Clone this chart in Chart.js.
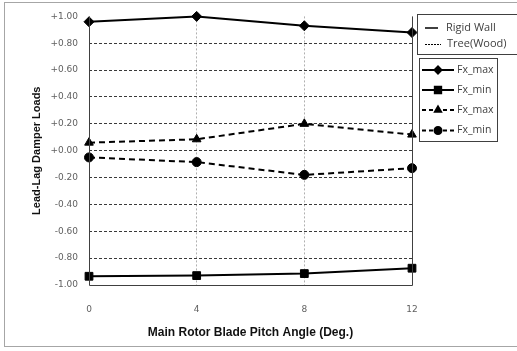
<!DOCTYPE html>
<html>
<head>
<meta charset="utf-8">
<script src="https://cdn.jsdelivr.net/npm/chart.js@4/dist/chart.umd.min.js"></script>
<style>
  html, body { margin: 0; padding: 0; background: #fff; overflow: hidden; }
  #wrap { position: relative; width: 517px; height: 351px; }
  #frame { position: absolute; left: 4px; top: 2px; width: 530px; height: 345px; border: 1px solid #a6a6a6; box-sizing: border-box; pointer-events: none; }
  canvas { position: absolute; left: 0; top: 0; }
</style>
</head>
<body>
<div id="wrap">
  <canvas id="c" width="517" height="351"></canvas>
  <div id="frame"></div>
</div>
<script>
// Blade pitch angles (deg.)
const pitchAngles = [0, 4, 8, 12];

// Lead-lag damper loads, rigid wall boundary
const rigidFxMax = [0.96, 1.00, 0.93, 0.88];
const rigidFxMin = [-0.935, -0.93, -0.915, -0.875];

// Lead-lag damper loads, tree (wood) boundary
const treeFxMax = [0.06, 0.085, 0.20, 0.12];
const treeFxMin = [-0.05, -0.085, -0.18, -0.13];

const xTicks = [0, 4, 8, 12];
const yMin = -1.0, yMax = 1.0, yStep = 0.2;

const groupLabels = ['Rigid Wall', 'Tree(Wood)'];
const seriesLabels = ['Fx_max', 'Fx_min', 'Fx_max', 'Fx_min'];

const DASH = [6, 4];
const toPoints = vals => pitchAngles.map((a, i) => ({ x: a, y: vals[i] }));

const seriesDefs = [
  { values: rigidFxMax, style: 'rectRot', radius: 5, legendRadius: 3.5, dash: [] },
  { values: rigidFxMin, style: 'rect', radius: 5.5, legendRadius: 4.5, dash: [] },
  { values: treeFxMax, style: 'triangle', radius: 5, legendRadius: 3.5, dash: DASH },
  { values: treeFxMin, style: 'circle', radius: 4.5, legendRadius: 3.5, dash: DASH }
];

const datasets = seriesDefs.map((s, i) => ({
  label: seriesLabels[i],
  data: toPoints(s.values),
  borderColor: '#000',
  backgroundColor: '#000',
  borderWidth: 2,
  borderDash: s.dash,
  pointStyle: s.style,
  pointRadius: s.radius,
  pointBorderWidth: 1,
  pointBackgroundColor: '#000',
  pointBorderColor: '#000',
  tension: 0,
  clip: false
}));

const TEXT_FONT = '"Open Sans", "Noto Sans", sans-serif';
const TITLE_FONT = '"Liberation Sans", Arial, sans-serif';

// Plot frame (left, bottom and right edges) plus the two legend boxes
const framePlugin = {
  id: 'frameAndLegend',
  afterDatasetsDraw(chart) {
    const { ctx, chartArea: a } = chart;
    ctx.save();
    ctx.strokeStyle = '#404040';
    ctx.lineWidth = 1;
    ctx.setLineDash([]);
    ctx.beginPath();
    ctx.moveTo(Math.round(a.left) + 0.5, a.top);
    ctx.lineTo(Math.round(a.left) + 0.5, Math.round(a.bottom) + 0.5);
    ctx.lineTo(Math.round(a.right) + 0.5, Math.round(a.bottom) + 0.5);
    ctx.lineTo(Math.round(a.right) + 0.5, a.top);
    ctx.stroke();
    ctx.restore();
  },
  afterDraw(chart) {
    const ctx = chart.ctx;
    ctx.save();
    ctx.strokeStyle = '#404040';
    ctx.lineWidth = 1;
    ctx.setLineDash([]);

    // group legend
    ctx.strokeRect(417.5, 14.5, 110, 40);
    ctx.font = '11px ' + TEXT_FONT;
    ctx.fillStyle = '#404040';
    ctx.textBaseline = 'middle';
    ctx.textAlign = 'left';
    ctx.strokeStyle = '#000';
    ctx.lineWidth = 1.5;
    ctx.beginPath(); ctx.moveTo(425, 28); ctx.lineTo(438, 28); ctx.stroke();
    ctx.fillText(groupLabels[0], 446, 28);
    ctx.lineWidth = 1;
    ctx.setLineDash([2, 1]);
    ctx.beginPath(); ctx.moveTo(425, 44.5); ctx.lineTo(441, 44.5); ctx.stroke();
    ctx.setLineDash([]);
    ctx.fillText(groupLabels[1], 447, 44);

    // series legend
    ctx.strokeStyle = '#404040';
    ctx.strokeRect(419.5, 58.5, 78, 83);
    ctx.font = '10.5px ' + TEXT_FONT;
    const rows = [70, 90, 110, 130.5];
    seriesDefs.forEach((s, i) => {
      const y = rows[i];
      ctx.strokeStyle = '#000';
      ctx.lineWidth = 2;
      ctx.setLineDash(s.dash.length ? [4, 3] : []);
      ctx.beginPath(); ctx.moveTo(422, y); ctx.lineTo(454, y); ctx.stroke();
      ctx.setLineDash([]);
      ctx.fillStyle = '#000';
      Chart.helpers.drawPoint(ctx, {
        pointStyle: s.style,
        radius: s.legendRadius,
        rotation: 0,
        borderWidth: 1
      }, 438, y);
      ctx.fillStyle = '#404040';
      ctx.fillText(seriesLabels[i], 457, y);
    });
    ctx.restore();
  }
};

const fmtY = v => {
  const r = Math.round(v * 100) / 100;
  return (r >= 0 ? '+' : '') + r.toFixed(2);
};

new Chart(document.getElementById('c'), {
  type: 'line',
  data: { datasets },
  plugins: [framePlugin],
  options: {
    responsive: false,
    animation: false,
    devicePixelRatio: 1,
    layout: { padding: { left: 4, right: 105, top: 14, bottom: 8 } },
    plugins: { legend: { display: false }, tooltip: { enabled: false } },
    scales: {
      x: {
        type: 'linear',
        min: 0,
        max: 12,
        afterBuildTicks: s => { s.ticks = xTicks.map(v => ({ value: v })); },
        afterFit: s => { s.height = 58; },
        ticks: {
          padding: 19,
          color: '#606060',
          font: { family: '"DejaVu Sans", Verdana, sans-serif', size: 9 },
          maxRotation: 0
        },
        grid: {
          drawTicks: false,
          lineWidth: 1,
          color: c => (c.tick && (c.tick.value === 4 || c.tick.value === 8)) ? '#b0b0b0' : 'rgba(0,0,0,0)'
        },
        border: { display: false, dash: [2, 2] },
        title: {
          display: true,
          text: 'Main Rotor Blade Pitch Angle (Deg.)',
          color: '#111',
          font: { family: TITLE_FONT, size: 12, weight: 'bold' },
          padding: { top: 0, bottom: 3 }
        }
      },
      y: {
        type: 'linear',
        min: yMin,
        max: yMax,
        afterFit: s => { s.width = 85; },
        ticks: {
          stepSize: yStep,
          padding: 11,
          color: '#606060',
          font: { family: '"DejaVu Sans", Verdana, sans-serif', size: 9 },
          callback: v => fmtY(v)
        },
        grid: {
          drawTicks: false,
          lineWidth: 1,
          color: c => {
            const v = c.tick ? c.tick.value : 0;
            return (Math.abs(v - yMax) < 1e-6 || Math.abs(v - yMin) < 1e-6) ? 'rgba(0,0,0,0)' : '#3a3a3a';
          }
        },
        border: { display: false, dash: [3, 2] },
        title: {
          display: true,
          text: 'Lead-Lag Damper Loads',
          color: '#111',
          font: { family: TITLE_FONT, size: 11, weight: 'bold' },
          padding: { top: 26, bottom: 0 }
        }
      }
    }
  }
});
</script>
</body>
</html>
